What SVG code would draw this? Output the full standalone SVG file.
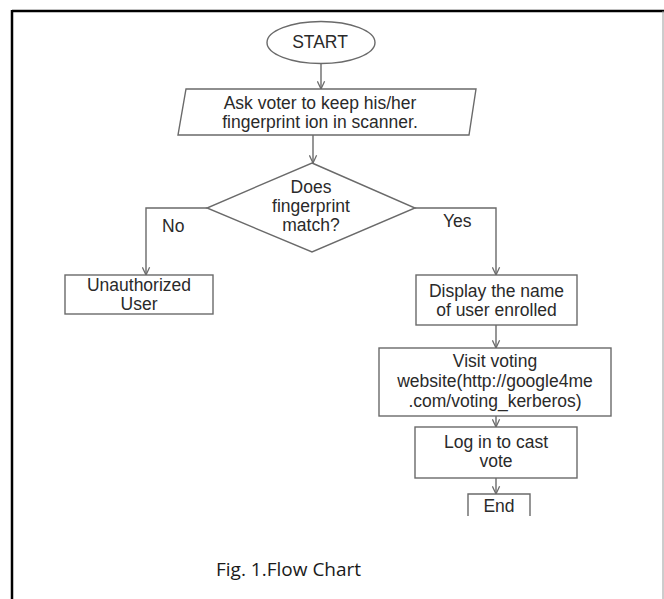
<svg xmlns="http://www.w3.org/2000/svg" width="664" height="599" viewBox="0 0 664 599">
  <style>
    .shape { fill: #ffffff; stroke: #6a6a6a; stroke-width: 1.4; }
    .conn { fill: none; stroke: #6a6a6a; stroke-width: 1.4; }
    .t { font-family: "Liberation Sans", Arial, sans-serif; font-size: 17.5px; fill: #2a2a2a; text-anchor: middle; }
    .lbl { font-family: "Liberation Sans", Arial, sans-serif; font-size: 17.5px; fill: #2a2a2a; }
    .cap { font-family: "Open Sans", "Liberation Sans", sans-serif; font-size: 19px; fill: #1a1a1a; }
  </style>
  <defs>
    <marker id="arr" viewBox="0 0 10 10" refX="9.5" refY="5" markerWidth="9" markerHeight="9" markerUnits="userSpaceOnUse" orient="auto">
      <path d="M1,1 L9.5,5 L1,9" fill="none" stroke="#6a6a6a" stroke-width="1.4"/>
    </marker>
  </defs>
  <rect width="664" height="599" fill="#ffffff"/>
  <g id="frame">
    <line x1="12" y1="11" x2="664" y2="11" stroke="#000" stroke-width="2.5"/>
    <line x1="12" y1="10" x2="12" y2="599" stroke="#000" stroke-width="2.5"/>
    <line x1="663" y1="11" x2="663" y2="599" stroke="#9a9a9a" stroke-width="1"/>
  </g>
  <g id="connectors">
    <line class="conn" x1="321" y1="63.5" x2="321" y2="89" marker-end="url(#arr)"/>
    <line class="conn" x1="313" y1="135" x2="313" y2="163" marker-end="url(#arr)"/>
    <polyline class="conn" points="207,208 146,208 146,275" marker-end="url(#arr)"/>
    <polyline class="conn" points="415,208 496,208 496,275" marker-end="url(#arr)"/>
    <line class="conn" x1="496" y1="325" x2="496" y2="348" marker-end="url(#arr)"/>
    <line class="conn" x1="496" y1="416" x2="496" y2="427" marker-end="url(#arr)"/>
    <line class="conn" x1="496" y1="478" x2="496" y2="494" marker-end="url(#arr)"/>
    <text class="lbl" x="162" y="232">No</text>
    <text class="lbl" x="443" y="227">Yes</text>
  </g>
  <g id="start">
    <ellipse class="shape" cx="321" cy="42.5" rx="54" ry="21"/>
    <text class="t" x="320" y="48">START</text>
  </g>
  <g id="scan">
    <polygon class="shape" points="186,89 476,89 469,135 178,135"/>
    <text class="t" x="320" y="108.5">Ask voter to keep his/her</text>
    <text class="t" x="320" y="128">fingerprint ion in scanner.</text>
  </g>
  <g id="decision">
    <polygon class="shape" points="312,163 415,208 312,252 207,208"/>
    <text class="t" x="311" y="193">Does</text>
    <text class="t" x="311" y="212">fingerprint</text>
    <text class="t" x="311" y="231">match?</text>
  </g>
  <g id="unauthorized">
    <rect class="shape" x="65" y="275" width="148" height="39"/>
    <text class="t" x="139" y="291">Unauthorized</text>
    <text class="t" x="139" y="310">User</text>
  </g>
  <g id="display">
    <rect class="shape" x="416" y="275" width="161" height="50"/>
    <text class="t" x="496.5" y="297">Display the name</text>
    <text class="t" x="496.5" y="316">of user enrolled</text>
  </g>
  <g id="visit">
    <rect class="shape" x="379" y="348" width="232" height="68"/>
    <text class="t" x="495" y="367">Visit voting</text>
    <text class="t" x="495" y="387">website(http://google4me</text>
    <text class="t" x="495" y="407">.com/voting_kerberos)</text>
  </g>
  <g id="login">
    <rect class="shape" x="415" y="427" width="162" height="51"/>
    <text class="t" x="496" y="448">Log in to cast</text>
    <text class="t" x="496" y="467">vote</text>
  </g>
  <g id="end">
    <path class="shape" d="M468,516 L468,494 L530,494 L530,516" fill="none"/>
    <text class="t" x="499" y="511.5">End</text>
  </g>
  <g id="caption">
    <text class="cap" x="216" y="576">Fig. 1.Flow Chart</text>
  </g>
</svg>
